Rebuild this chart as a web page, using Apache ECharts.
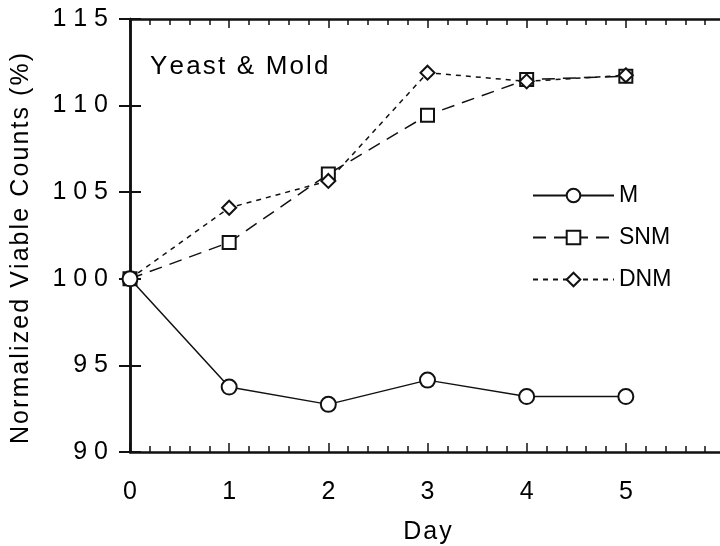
<!DOCTYPE html>
<html>
<head>
<meta charset="utf-8">
<script src="https://cdn.jsdelivr.net/npm/echarts@6/dist/echarts.min.js"></script>
<style>
  html, body { margin: 0; padding: 0; background: #fff; }
  #chart { width: 720px; height: 546px; }
</style>
</head>
<body>
<div id="chart"></div>
<script>
// days on the x axis
const days = [0, 1, 2, 3, 4, 5];
// normalized viable counts (%)
const mValues = [100, 93.75, 92.75, 94.15, 93.2, 93.2];
const snmValues = [100, 102.1, 106.05, 109.45, 111.5, 111.7];
const dnmValues = [100, 104.1, 105.65, 111.9, 111.4, 111.75];
const seriesNames = ["M", "SNM", "DNM"];

const font = "Liberation Sans";
// the scanned figure has wide letter spacing, fake it with thin spaces
const spread = (s, sep) => String(s).split("").join(sep);

const toPairs = (vals) => vals.map((v, i) => [days[i], v]);

const chart = echarts.init(document.getElementById("chart"));
const option = {
  animation: false,
  backgroundColor: "#fff",
  title: {
    text: spread("Yeast & Mold", "\u200a"),
    left: 145,
    top: 49,
    textStyle: { fontFamily: font, fontSize: 26, fontWeight: "normal", color: "#000" },
  },
  legend: {
    orient: "vertical",
    left: 527,
    top: 179,
    itemWidth: 81,
    itemHeight: 17,
    itemGap: 19,
    textStyle: { fontFamily: font, fontSize: 23, color: "#000", padding: [0, 0, 0, 0] },
    data: seriesNames,
  },
  grid: { left: 130, top: 19, bottom: 94, right: -5, outerBoundsMode: "none" },
  xAxis: [
    {
      type: "value",
      min: 0,
      max: 6,
      interval: 1,
      name: spread("Day", "\u200a"),
      nameLocation: "middle",
      nameGap: 68,
      nameTextStyle: { fontFamily: font, fontSize: 25, color: "#000" },
      axisLine: { lineStyle: { color: "#111", width: 2.5 } },
      axisTick: { inside: true, length: 9, lineStyle: { color: "#111", width: 1.5 } },
      minorTick: { show: true, splitNumber: 5, length: 6, lineStyle: { color: "#111", width: 1.5 } },
      axisLabel: { fontFamily: font, fontSize: 25, color: "#000", margin: 28, formatter: (v) => (v === 6 ? "" : v) },
      splitLine: { show: false },
    },
    {
      type: "value",
      position: "top",
      min: 0,
      max: 6,
      interval: 1,
      axisLine: { lineStyle: { color: "#111", width: 2.5 } },
      axisTick: { inside: true, length: 9, lineStyle: { color: "#111", width: 1.5 } },
      minorTick: { show: true, splitNumber: 5, length: 6, lineStyle: { color: "#111", width: 1.5 } },
      axisLabel: { show: false },
      splitLine: { show: false },
    },
  ],
  yAxis: [
    {
      type: "value",
      min: 90,
      max: 115,
      interval: 5,
      name: spread("Normalized Viable Counts (%)", "\u200a"),
      nameLocation: "middle",
      nameGap: 96,
      nameTextStyle: { fontFamily: font, fontSize: 25, color: "#000", padding: [0, 26, 0, 0] },
      axisLine: { lineStyle: { color: "#111", width: 2.5 } },
      axisTick: { inside: true, length: 11, lineStyle: { color: "#111", width: 2 } },
      axisLabel: { fontFamily: font, fontSize: 25, color: "#000", margin: 22, formatter: (v) => spread(v, " ") },
      splitLine: { show: false },
    },
    {
      type: "value",
      position: "right",
      min: 90,
      max: 115,
      interval: 5,
      axisLine: { lineStyle: { color: "#111", width: 2.5 } },
      axisTick: { inside: true, length: 11, lineStyle: { color: "#111", width: 2 } },
      axisLabel: { show: false },
      splitLine: { show: false },
    },
  ],
  series: [
    {
      name: "M",
      type: "line",
      data: toPairs(mValues),
      symbol: "emptyCircle",
      symbolSize: 15,
      lineStyle: { color: "#111", width: 1.5, type: "solid" },
      itemStyle: { color: "#111", borderWidth: 1.5 },
      z: 3,
    },
    {
      name: "SNM",
      type: "line",
      data: toPairs(snmValues),
      symbol: "emptyRect",
      symbolSize: 13,
      lineStyle: { color: "#111", width: 1.5, type: [13, 8] },
      itemStyle: { color: "#111", borderWidth: 1.5 },
      z: 2,
    },
    {
      name: "DNM",
      type: "line",
      data: toPairs(dnmValues),
      symbol: "emptyDiamond",
      symbolSize: 14,
      lineStyle: { color: "#111", width: 1.5, type: [5, 5] },
      itemStyle: { color: "#111", borderWidth: 1.5 },
      z: 2,
    },
  ],
};
chart.setOption(option);
</script>
</body>
</html>
